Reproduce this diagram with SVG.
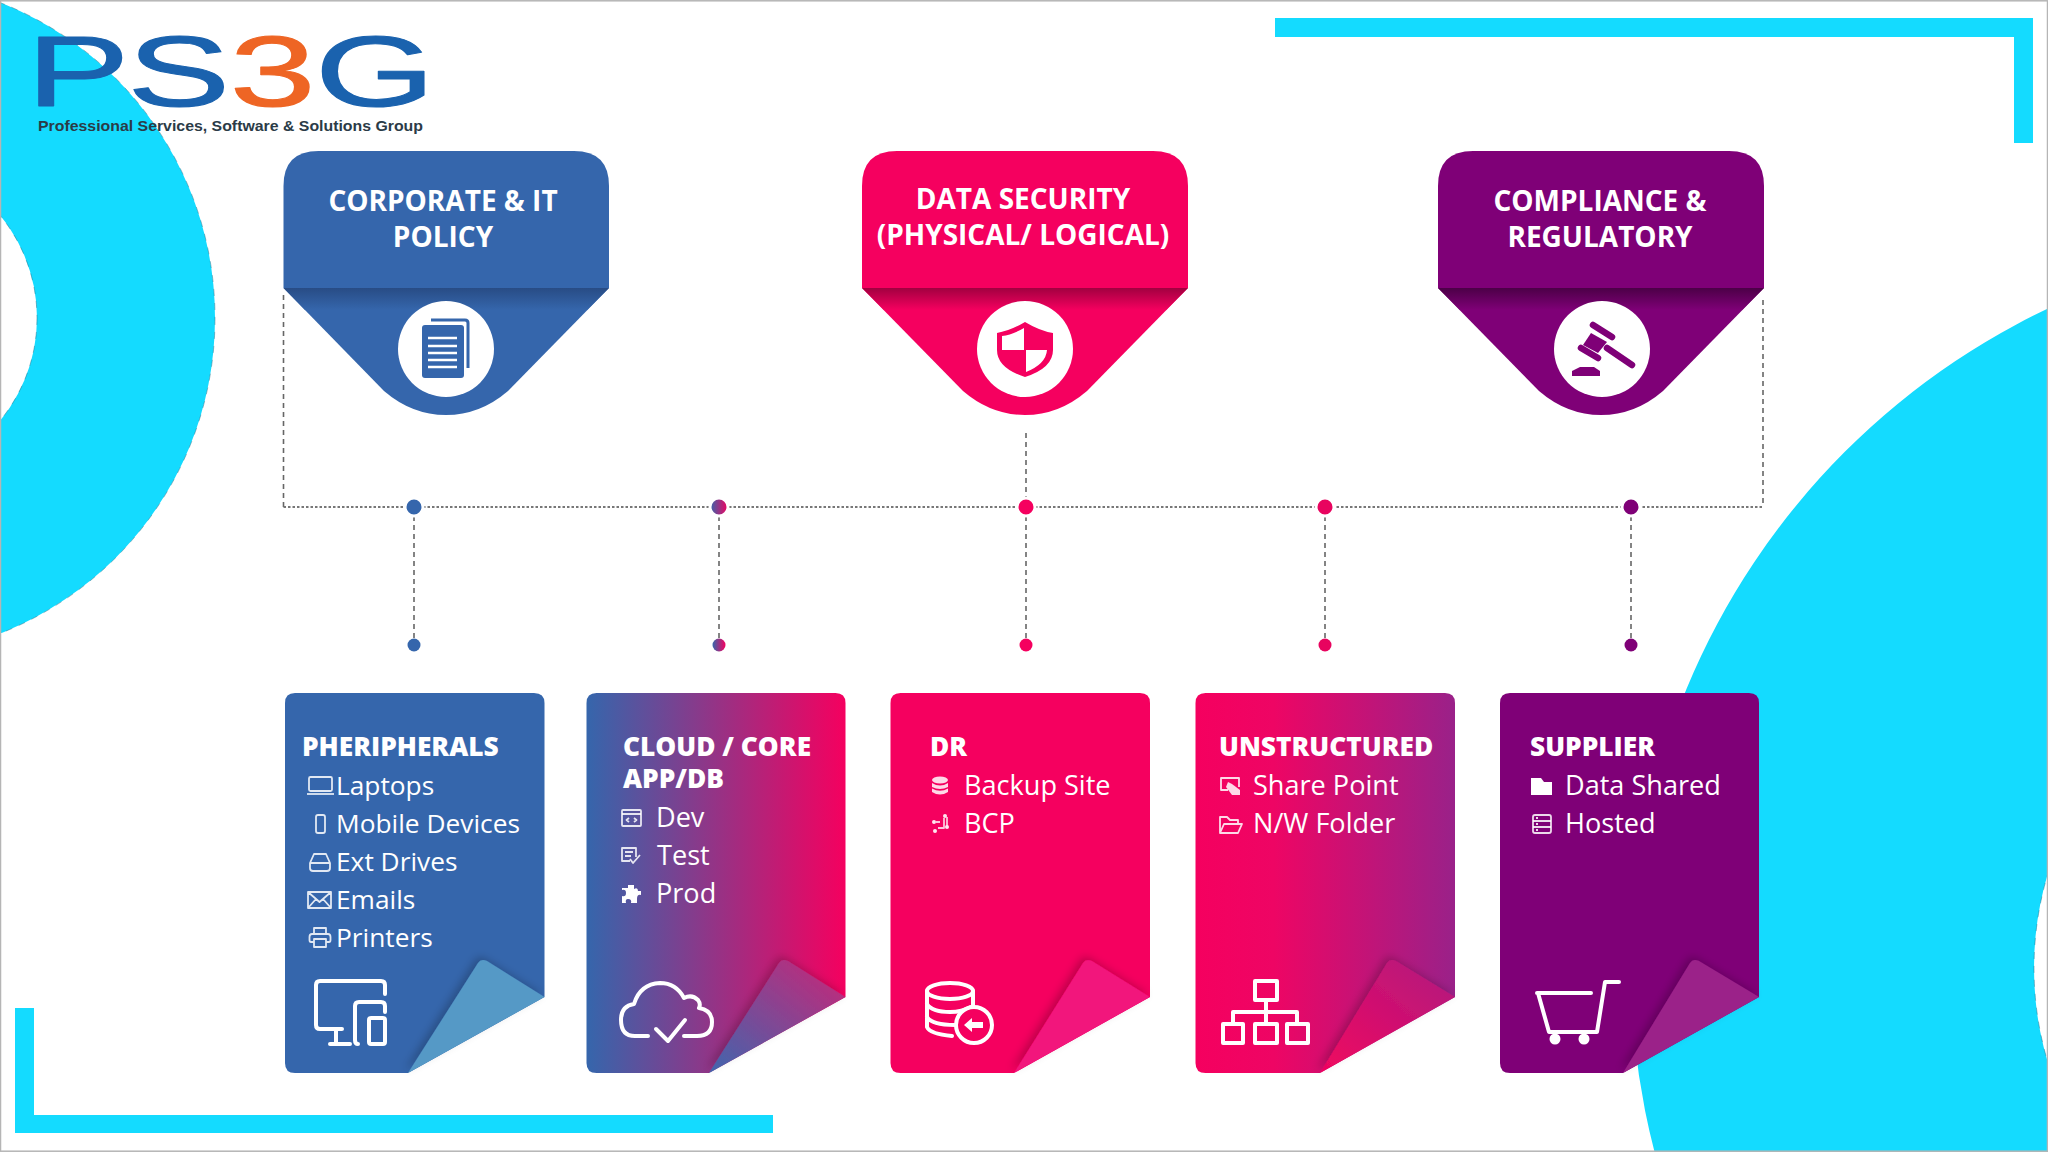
<svg xmlns="http://www.w3.org/2000/svg" width="2048" height="1152" viewBox="0 0 2048 1152">
<defs>
<linearGradient id="g2" x1="0" x2="1" y1="0" y2="0"><stop offset="0" stop-color="#3566ac"/><stop offset="1" stop-color="#f5005f"/></linearGradient>
<linearGradient id="g4" x1="0" x2="1" y1="0" y2="0"><stop offset="0" stop-color="#f5005f"/><stop offset=".3" stop-color="#ee0564"/><stop offset="1" stop-color="#9a2189"/></linearGradient>
<linearGradient id="f2" x1="0" x2="1" y1="1" y2="0"><stop offset="0" stop-color="#3f66ae"/><stop offset="1" stop-color="#cc2476"/></linearGradient>
<linearGradient id="f4" x1="0" x2="1" y1="1" y2="0"><stop offset="0" stop-color="#f0055f"/><stop offset="1" stop-color="#b01a80"/></linearGradient>
<linearGradient id="dot2" x1="0" x2="1"><stop offset="0" stop-color="#3566ac"/><stop offset="1" stop-color="#f5005f"/></linearGradient>
<linearGradient id="b1" x1="0" x2="0" y1="0" y2="1"><stop offset="0" stop-color="#284c85"/><stop offset="1" stop-color="#3566ac"/></linearGradient>
<linearGradient id="b2" x1="0" x2="0" y1="0" y2="1"><stop offset="0" stop-color="#a20040"/><stop offset="1" stop-color="#f5005f"/></linearGradient>
<linearGradient id="b3" x1="0" x2="0" y1="0" y2="1"><stop offset="0" stop-color="#4c0047"/><stop offset="1" stop-color="#7f0077"/></linearGradient>
<filter id="sh" x="-30%" y="-30%" width="160%" height="160%"><feDropShadow dx="-3" dy="-3" stdDeviation="4" flood-color="#000" flood-opacity=".22"/></filter>
</defs>
<style>
.bg{fill:#14dbff}
.ring{fill:none;stroke:#2a6a80;stroke-width:1;stroke-dasharray:7 7;opacity:.45}
.h{font-family:"Open Sans","DejaVu Sans",sans-serif;font-weight:700;font-size:28px;fill:#fff;text-anchor:middle}
.t{font-family:"Open Sans","DejaVu Sans",sans-serif;font-weight:800;font-size:26.300px;fill:#fff}
.i{font-family:"Open Sans","DejaVu Sans",sans-serif;font-weight:400;font-size:27.100px;fill:#fff}
.i1{font-size:26.300px}
.ic{fill:none;stroke:#fff;stroke-width:1.800;opacity:.85;stroke-linejoin:round}
.if{fill:#fff;stroke:none}
.big{fill:none;stroke:#fff;stroke-width:4;stroke-linejoin:round;stroke-linecap:round}
.dash{fill:none;stroke:#666;stroke-width:1.600;stroke-dasharray:5 4}
.dots{fill:none;stroke:#777;stroke-width:2;stroke-dasharray:2.500 2}
.d{stroke:#fff;stroke-width:3}
.shade{filter:url(#sh)}
</style>
<rect width="2048" height="1152" fill="#fff"/>
<g id="background">
<path class="bg" fill-rule="evenodd" d="M-463 318a339 339 0 1 0 678 0a339 339 0 1 0-678 0ZM-285 318a161 161 0 1 0 322 0a161 161 0 1 0-322 0Z"/>
<path class="bg" fill-rule="evenodd" d="M1631 968a730 730 0 1 0 1460 0a730 730 0 1 0-1460 0ZM2034 968a327 327 0 1 0 654 0a327 327 0 1 0-654 0Z"/>
<circle class="ring" cx="-124" cy="318" r="339"/><circle class="ring" cx="-124" cy="318" r="161"/><circle class="ring" cx="2361" cy="968" r="327"/>
<path class="bg" d="M1275 18H2033V143H2014V37H1275Z"/>
<path class="bg" d="M15 1008H34V1115H773V1133H15Z"/>
<rect x=".5" y=".8" width="2047" height="1150.400" fill="none" stroke="#b5b5b5" stroke-width="1.500"/>
</g>
<g id="logo">
<text transform="translate(0,106) scale(1.55,1)" y="0" x="17 82 148 203" font-family="Liberation Sans,Arial,sans-serif" font-size="100" stroke-width="1" stroke-linejoin="round"><tspan fill="#1a62ae" stroke="#1a62ae">PS</tspan><tspan fill="#ee6524" stroke="#ee6524">3</tspan><tspan fill="#1a62ae" stroke="#1a62ae">G</tspan></text>
<text x="38" y="131" font-family="Liberation Sans,Arial,sans-serif" font-weight="700" font-size="15" fill="#2b3b47" textLength="385" lengthAdjust="spacingAndGlyphs">Professional Services, Software &amp; Solutions Group</text>
</g>
<g id="connectors">
<path class="dash" d="M283.500 295V507M1763 300V507M1026 433V507M414 507V645M719 507V645M1026 507V645M1325 507V645M1631 507V645"/>
<path class="dots" d="M283.500 507H1763"/>
<circle class="d" cx="414" cy="507" r="9" fill="#3566ac"/><circle class="d" cx="719" cy="507" r="9" fill="url(#dot2)"/><circle class="d" cx="1026" cy="507" r="9" fill="#f5005f"/><circle class="d" cx="1325" cy="507" r="9" fill="#e8045f"/><circle class="d" cx="1631" cy="507" r="9" fill="#7f0077"/>
<circle cx="414" cy="645" r="6.500" fill="#3566ac"/><circle cx="719" cy="645" r="6.500" fill="url(#dot2)"/><circle cx="1026" cy="645" r="6.500" fill="#f5005f"/><circle cx="1325" cy="645" r="6.500" fill="#e8045f"/><circle cx="1631" cy="645" r="6.500" fill="#7f0077"/>
</g>
<g id="node-corporate">
<path fill="#3566ac" d="M283.500 288L384 391Q412 415 446 415Q480 415 508 391L609 288Z"/>
<path fill="url(#b1)" d="M283.500 288H609L587 310H305Z"/>
<path fill="#3566ac" d="M283.500 288V186Q283.500 151 318.500 151H574Q609 151 609 186V288Z"/>
<text class="h" x="443" y="211">CORPORATE &amp; IT</text><text class="h" x="443" y="247">POLICY</text>
<circle cx="446" cy="349" r="48" fill="#fff"/>
<path fill="none" stroke="#3566ac" stroke-width="3" d="M431 320H465Q468 320 468 323V368"/>
<rect x="422" y="325" width="42" height="53" rx="3" fill="#3566ac"/>
<path stroke="#fff" stroke-width="2.500" d="M428 338H457M428 346H457M428 353H457M428 360H457M428 367H457"/>
</g>
<g id="node-security">
<path fill="#f5005f" d="M862 288L963 391Q991 415 1025 415Q1059 415 1087 391L1188 288Z"/>
<path fill="url(#b2)" d="M862 288H1188L1166 310H884Z"/>
<path fill="#f5005f" d="M862 288V186Q862 151 897 151H1153Q1188 151 1188 186V288Z"/>
<text class="h" x="1023" y="209">DATA SECURITY</text><text class="h" x="1023" y="245">(PHYSICAL/ LOGICAL)</text>
<circle cx="1025" cy="349" r="48" fill="#fff"/>
<path fill="#f5005f" d="M1025 322Q1040 331 1053 333V350Q1053 368 1025 377Q997 368 997 350V333Q1010 331 1025 322Z"/>
<path fill="#fff" d="M1024 328Q1012 335 1002 336V350H1024ZM1026 350H1047Q1046 364 1026 372Z"/>
</g>
<g id="node-compliance">
<path fill="#7f0077" d="M1438 288L1539 391Q1567 415 1601 415Q1635 415 1663 391L1764 288Z"/>
<path fill="url(#b3)" d="M1438 288H1764L1742 310H1460Z"/>
<path fill="#7f0077" d="M1438 288V186Q1438 151 1473 151H1729Q1764 151 1764 186V288Z"/>
<text class="h" x="1600" y="211">COMPLIANCE &amp;</text><text class="h" x="1600" y="247">REGULATORY</text>
<circle cx="1602" cy="349" r="48" fill="#fff"/>
<g fill="#7f0077" stroke="none"><path d="M1607 348L1632 365" stroke="#7f0077" stroke-width="6.500" stroke-linecap="round"/>
<path d="M1593 325L1612 337M1581 348L1598 358" stroke="#7f0077" stroke-width="6.500" stroke-linecap="round"/>
<path d="M1591 333L1607 342L1598 353L1583 345Z"/>
<path d="M1572 376V371L1580 367H1594L1600 371V376Z"/></g>
</g>
<g id="node-peripherals">
<path fill="#3566ac" d="M295 693H534Q544.500 693 544.500 703V997L408 1073H295Q285 1073 285 1063V703Q285 693 295 693Z"/>
<path class="shade" fill="#5599c6" d="M408 1073L478 963Q481 958 487 961L544.500 997Z"/>
<text class="t" x="302" y="756">PHERIPHERALS</text>
<text class="i i1" x="336" y="795">Laptops</text><text class="i i1" x="336" y="833">Mobile Devices</text><text class="i i1" x="336" y="871">Ext Drives</text><text class="i i1" x="336" y="909">Emails</text><text class="i i1" x="336" y="947">Printers</text>
<rect class="ic" x="309" y="777" width="23" height="14" rx="1.500"/><path class="ic" d="M307 794H334"/>
<rect class="ic" x="316" y="815" width="9" height="18" rx="2"/>
<path class="ic" d="M310 863L314 854H326L330 863V868Q330 871 327 871H313Q310 871 310 868ZM310 863H330"/>
<path class="ic" d="M308 892H331V908H308ZM308 892L319.500 902L331 892M308 908L316 899M331 908L323 899"/>
<path class="ic" d="M314 934V928H326V934M314 942H311Q309.500 942 309.500 940V937Q309.500 934 312 934H328Q330.500 934 330.500 937V940Q330.500 942 329 942H326M314 939H326V947H314Z"/>
<path class="big" d="M342 1029H320Q316 1029 316 1025V985Q316 981 320 981H381Q385 981 385 985V994M336 1029V1044M330 1044H350"/>
<path class="big" d="M358 1044Q355 1044 355 1040V1006Q355 1002 359 1002H381Q385 1002 385 1006V1012"/>
<rect class="big" x="369" y="1018" width="16" height="26" rx="2"/>
</g>
<g id="node-cloud">
<path fill="url(#g2)" d="M596.500 693H835.500Q845.500 693 845.500 703V997L709 1073H596.500Q586.500 1073 586.500 1063V703Q586.500 693 596.500 693Z"/>
<path class="shade" fill="url(#f2)" d="M709 1073L779 963Q782 958 788 961L845.500 997Z"/>
<text class="t" x="623" y="756">CLOUD / CORE</text><text class="t" x="623" y="788">APP/DB</text>
<text class="i" x="656" y="827">Dev</text><text class="i" x="657" y="865">Test</text><text class="i" x="656" y="903">Prod</text>
<rect class="ic" x="622" y="810" width="19" height="16" rx="1"/><path class="ic" d="M622 814H641M629 818L626.500 820L629 822M634 818L636.500 820L634 822"/>
<path class="ic" d="M636 857V848H622V861H630M625 852H633M625 856H631M630 859L633 863L640 855"/>
<path class="if" d="M628 885H634V889Q638 887 638 891H641V895Q637 894 637 899V903H631Q632 899 628 899Q625 899 626 903H622V896Q626 897 626 893Q626 889 622 890V888H628Z"/>
<path class="big" d="M648 1036H635Q621 1036 621 1020Q621 1006 634 1004Q640 984 660 983Q676 983 684 998Q692 994 698 1000Q701 1004 699 1008Q712 1010 712 1022Q712 1036 697 1036H684"/>
<path class="big" d="M656 1029L668 1041L685 1020"/>
</g>
<g id="node-dr">
<path fill="#f5005f" d="M900.500 693H1140Q1150 693 1150 703V997L1014 1073H900.500Q890.500 1073 890.500 1063V703Q890.500 693 900.500 693Z"/>
<path class="shade" fill="#f2137c" d="M1014 1073L1083 963Q1086 958 1092 961L1150 997Z"/>
<text class="t" x="930" y="756">DR</text>
<text class="i" x="964" y="795">Backup Site</text><text class="i" x="964" y="833">BCP</text>
<g class="if" opacity=".85"><ellipse cx="940" cy="780" rx="8" ry="3.500"/><path d="M932 783Q940 788 948 783V787Q940 791 932 787ZM932 788.500Q940 793 948 788.500V792Q940 797 932 792Z"/></g>
<g opacity=".9"><path class="ic" d="M936 822H940M944 818V828H938M947 817V826"/><circle class="if" cx="934" cy="822" r="2"/><circle class="if" cx="945" cy="816" r="2"/><circle class="if" cx="947" cy="827" r="2"/><circle class="if" cx="935" cy="831" r="2"/></g>
<ellipse class="big" cx="950" cy="991" rx="23" ry="8"/>
<path class="big" d="M927 991V1027Q930 1034 952 1036M927 1004Q932 1012 950 1012Q962 1012 971 1007M927 1017Q932 1025 955 1025"/>
<path class="big" d="M973 991V1008"/>
<circle cx="974" cy="1025" r="18" fill="#f5005f" stroke="#fff" stroke-width="4"/>
<path class="if" d="M964 1025L972 1018V1022H983V1028H972V1032Z"/>
</g>
<g id="node-unstructured">
<path fill="url(#g4)" d="M1205.500 693H1445Q1455 693 1455 703V997L1320 1073H1205.500Q1195.500 1073 1195.500 1063V703Q1195.500 693 1205.500 693Z"/>
<path class="shade" fill="url(#f4)" d="M1320 1073L1387 963Q1390 958 1396 961L1455 997Z"/>
<text class="t" x="1219" y="756">UNSTRUCTURED</text>
<text class="i" x="1253" y="795">Share Point</text><text class="i" x="1253" y="833">N/W Folder</text>
<path class="ic" d="M1228 790H1221V778H1239V787"/><path class="if" opacity=".85" d="M1228 782L1232 784L1240 790V795H1232L1226 787Z"/>
<path class="ic" d="M1220 833V817H1227L1230 820H1238V824M1220 833L1224 824H1242L1238 833Z"/>
<path class="big" d="M1266 1000V1012M1233 1023V1012H1297V1023M1266 1012V1023"/>
<rect class="big" x="1255" y="981" width="22" height="19"/><rect class="big" x="1223" y="1024" width="20" height="19"/><rect class="big" x="1255" y="1024" width="22" height="19"/><rect class="big" x="1287" y="1024" width="21" height="19"/>
</g>
<g id="node-supplier">
<path fill="#7f0077" d="M1510 693H1749Q1759 693 1759 703V997L1623 1073H1510Q1500 1073 1500 1063V703Q1500 693 1510 693Z"/>
<path class="shade" fill="#9b2389" d="M1623 1073L1690 963Q1693 958 1699 961L1759 997Z"/>
<text class="t" x="1530" y="756">SUPPLIER</text>
<text class="i" x="1565" y="795">Data Shared</text><text class="i" x="1565" y="833">Hosted</text>
<path class="if" d="M1531 778H1541L1544 782H1552V795H1531Z"/>
<rect class="ic" x="1533" y="815" width="18" height="18" rx="2"/><path class="ic" d="M1533 821H1551M1533 827H1551M1536 818H1538M1536 824H1538M1536 830H1538"/>
<path class="big" d="M1537 993H1591M1538 993L1549 1032H1597L1605 982H1619"/>
<circle class="if" cx="1555" cy="1039" r="5.500"/><circle class="if" cx="1584" cy="1039" r="5.500"/>
</g>
</svg>
